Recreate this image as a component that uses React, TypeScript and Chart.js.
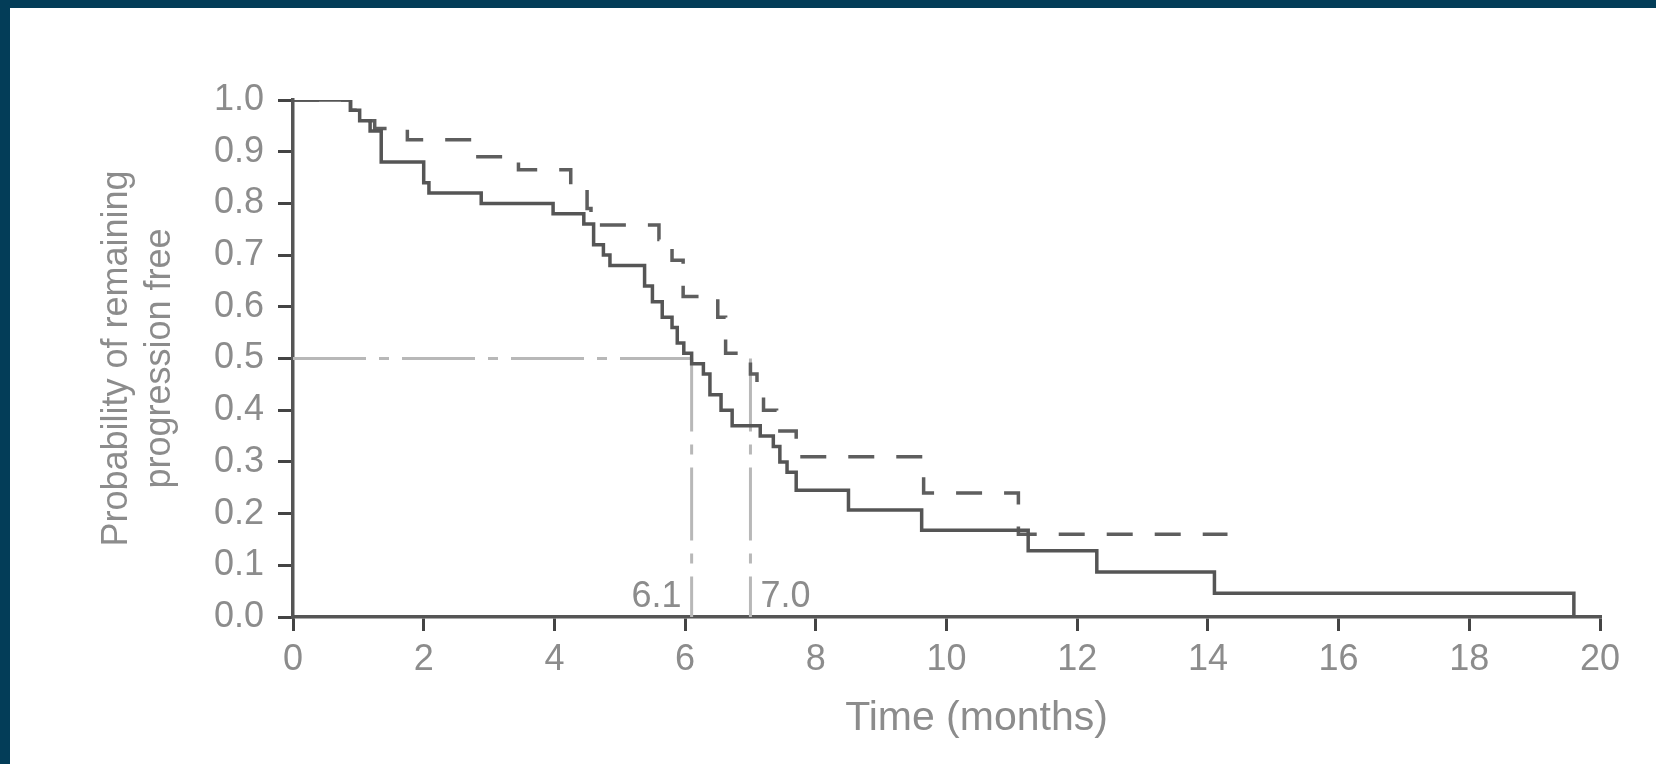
import React, { useEffect, useRef } from 'react';
import { Chart, registerables } from 'chart.js';

Chart.register(...registerables);

// ---- data ----
const xTickValues = [0, 2, 4, 6, 8, 10, 12, 14, 16, 18, 20];
const yTickValues = [0, 0.1, 0.2, 0.3, 0.4, 0.5, 0.6, 0.7, 0.8, 0.9, 1.0];

// solid curve (Kaplan–Meier, time of drop -> new survival level)
const groupATimes = [0, 0.88, 1.02, 1.18, 1.35, 2.0, 2.08, 2.88, 3.98, 4.45, 4.6, 4.75, 4.85, 5.38, 5.5, 5.65, 5.8, 5.88, 5.98, 6.1, 6.28, 6.38, 6.55, 6.72, 7.15, 7.35, 7.45, 7.56, 7.7, 8.5, 9.62, 11.25, 12.3, 14.1, 19.6];
const groupASurvival = [1.0, 0.98, 0.96, 0.94, 0.88, 0.84, 0.82, 0.8, 0.78, 0.76, 0.72, 0.7, 0.68, 0.64, 0.61, 0.58, 0.56, 0.53, 0.51, 0.49, 0.47, 0.43, 0.4, 0.37, 0.35, 0.33, 0.3, 0.28, 0.245, 0.207, 0.168, 0.128, 0.087, 0.046, 0.0];

// dashed curve
const groupBTimes = [0, 0.88, 1.05, 1.25, 1.75, 2.75, 3.45, 4.25, 4.5, 4.56, 5.6, 5.8, 5.97, 6.5, 6.62, 7.0, 7.1, 7.2, 7.4, 7.7, 9.65, 11.1, 14.3];
const groupBSurvival = [1.0, 0.98, 0.96, 0.945, 0.923, 0.89, 0.865, 0.83, 0.79, 0.758, 0.73, 0.69, 0.62, 0.58, 0.51, 0.47, 0.43, 0.4, 0.36, 0.31, 0.24, 0.16, 0.16];

// medians
const medianTimes = [6.1, 7.0];
const medianLabels = ['6.1', '7.0'];
const medianLevel = 0.5;

const xTitle = 'Time (months)';
const yTitle = ['Probability of remaining', 'progression free'];

const FONT = "'Liberation Sans', Arial, Helvetica, sans-serif";
const TEXT = '#8c8c8c';

export default function App() {
  const ref = useRef<HTMLCanvasElement>(null);

  useEffect(() => {
    const canvas = ref.current;
    if (!canvas) return;
    const toPoints = (t: number[], s: number[]) => t.map((x, i) => ({ x, y: s[i] }));

    const annotPlugin = {
      id: 'annot',
      afterDraw(chart: any) {
        const { ctx, scales } = chart;
        const x = scales.x;
        const y = scales.y;
        ctx.save();
        ctx.fillStyle = TEXT;
        ctx.font = `36px ${FONT}`;
        ctx.textBaseline = 'alphabetic';
        const by = y.getPixelForValue(0) - 10;
        ctx.textAlign = 'right';
        ctx.fillText(medianLabels[0], x.getPixelForValue(medianTimes[0]) - 10, by);
        ctx.textAlign = 'left';
        ctx.fillText(medianLabels[1], x.getPixelForValue(medianTimes[1]) + 10, by);
        ctx.font = `41px ${FONT}`;
        ctx.textAlign = 'center';
        ctx.textBaseline = 'middle';
        ctx.fillText(xTitle, (x.left + x.right) / 2 + 30, 719);
        ctx.restore();
      },
    };

    const medianStyle = {
      borderColor: '#b8b8b8',
      borderWidth: 3,
      borderDash: [73, 13, 10, 13],
      pointRadius: 0,
      fill: false,
    };

    const chart = new Chart(canvas, {
      type: 'line',
      data: {
        datasets: [
          {
            data: toPoints(groupATimes, groupASurvival),
            borderColor: '#555555',
            borderWidth: 3.5,
            stepped: true,
            pointRadius: 0,
            fill: false,
          },
          {
            data: toPoints(groupBTimes, groupBSurvival),
            borderColor: '#5e5e5e',
            borderWidth: 3.5,
            borderDash: [26, 22],
            stepped: true,
            pointRadius: 0,
            fill: false,
          },
          { ...medianStyle, data: [{ x: 0, y: medianLevel }, { x: medianTimes[0], y: medianLevel }] },
          { ...medianStyle, data: [{ x: medianTimes[0], y: medianLevel }, { x: medianTimes[0], y: 0 }] },
          { ...medianStyle, data: [{ x: medianTimes[1], y: medianLevel }, { x: medianTimes[1], y: 0 }] },
        ],
      } as any,
      options: {
        animation: false,
        responsive: false,
        events: [],
        layout: { padding: { left: 80, top: 100, right: 56, bottom: 47 } },
        plugins: { legend: { display: false }, tooltip: { enabled: false } },
        scales: {
          x: {
            type: 'linear',
            min: 0,
            max: 20,
            afterBuildTicks: (s: any) => {
              s.ticks = xTickValues.map((v) => ({ value: v }));
            },
            afterFit: (s: any) => {
              s.height = 100;
            },
            ticks: {
              font: { size: 36, family: FONT },
              color: TEXT,
              padding: 7,
              maxRotation: 0,
              autoSkip: false,
              callback: (v: any) => String(v),
            },
            grid: { drawOnChartArea: false, drawTicks: true, tickLength: 14, color: '#444', lineWidth: 3 },
            border: { color: '#555', width: 3.5 },
          },
          y: {
            type: 'linear',
            min: 0,
            max: 1,
            afterBuildTicks: (s: any) => {
              s.ticks = yTickValues.map((v) => ({ value: v }));
            },
            afterFit: (s: any) => {
              s.width = 213;
            },
            ticks: {
              font: { size: 36, family: FONT },
              color: TEXT,
              padding: 14,
              autoSkip: false,
              callback: (v: any) => Number(v).toFixed(1),
            },
            grid: { drawOnChartArea: false, drawTicks: true, tickLength: 15, color: '#444', lineWidth: 3 },
            border: { color: '#555', width: 3.5 },
            title: {
              display: true,
              text: yTitle,
              color: TEXT,
              font: { size: 36, family: FONT },
              padding: { top: 15, bottom: 0 },
            },
          },
        },
      } as any,
      plugins: [annotPlugin],
    });
    return () => chart.destroy();
  }, []);

  return (
    <div style={{ position: 'fixed', left: 0, top: 0, width: 1656, height: 764, background: '#ffffff', overflow: 'hidden' }}>
      <div style={{ position: 'absolute', left: 0, top: 0, width: 1656, height: 8, background: '#033d58' }} />
      <div style={{ position: 'absolute', left: 0, top: 0, width: 10, height: 764, background: '#033d58' }} />
      <canvas ref={ref} width={1656} height={764} style={{ position: 'absolute', left: 0, top: 0, display: 'block' }} />
    </div>
  );
}
